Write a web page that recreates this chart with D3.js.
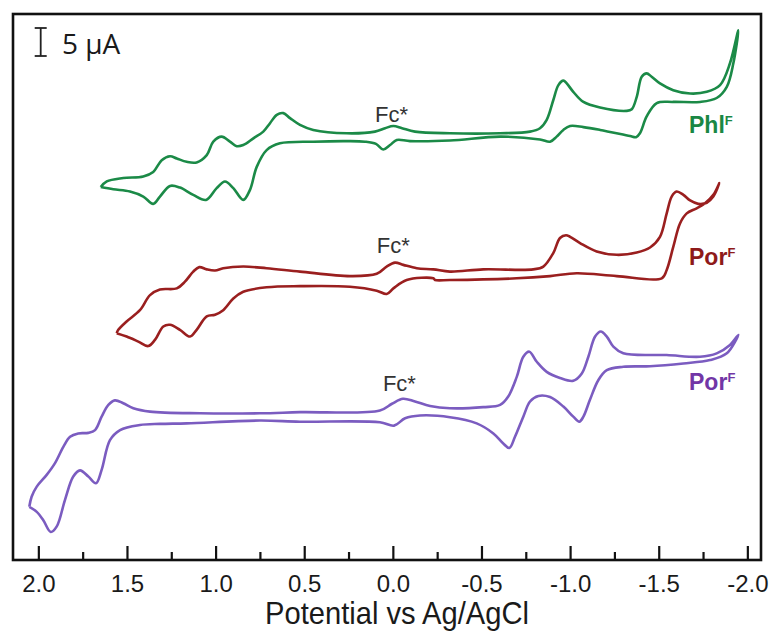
<!DOCTYPE html>
<html>
<head>
<meta charset="utf-8">
<script src="https://cdn.jsdelivr.net/npm/d3@7"></script>
<style>
  body { margin: 0; background: #fff; }
</style>
</head>
<body>
<div class="canvas"></div>
<script>
// CV traces, [potential (V), current (uA, stacked offset)]
// each loop goes along the upper branch left->right then back along the lower one

const phl_upper = [[1.648,66.6],[1.614,67.6],[1.521,68.2],[1.408,68.5],[1.352,69.3],[1.304,71.4],[1.257,72.1],[1.219,71.7],[1.163,71.1],[1.107,71.0],[1.050,72.3],[1.013,74.7],[0.966,75.6],[0.919,74.7],[0.881,73.9],[0.844,74.1],[0.787,75.3],[0.731,76.5],[0.693,78.0],[0.655,79.5],[0.618,79.8],[0.580,78.9],[0.524,77.7],[0.449,76.8],[0.260,76.2],[0.101,76.5],[0.044,77.1],[-0.003,77.5],[-0.052,77.1],[-0.125,76.5],[-0.322,76.2],[-0.605,76.2],[-0.774,76.5],[-0.830,77.1],[-0.868,78.6],[-0.905,82.1],[-0.934,84.8],[-0.962,85.6],[-0.981,85.1],[-1.018,83.6],[-1.075,81.8],[-1.169,80.8],[-1.319,80.2],[-1.348,80.5],[-1.376,82.7],[-1.404,86.3],[-1.432,86.9],[-1.460,86.3],[-1.507,85.1],[-1.582,83.9],[-1.677,83.3],[-1.771,83.6],[-1.846,84.8],[-1.902,88.7],[-1.949,94.6]];
const phl_lower = [[-1.921,88.7],[-1.884,84.5],[-1.827,82.5],[-1.733,81.8],[-1.582,81.8],[-1.489,81.6],[-1.432,79.2],[-1.394,76.2],[-1.372,75.5],[-1.338,75.7],[-1.169,76.8],[-1.075,77.3],[-1.000,77.5],[-0.962,76.8],[-0.924,75.6],[-0.887,74.7],[-0.830,75.1],[-0.605,75.6],[-0.322,74.9],[-0.097,74.8],[-0.022,75.0],[0.016,74.1],[0.054,73.3],[0.095,74.3],[0.157,74.7],[0.260,74.8],[0.449,74.7],[0.637,74.4],[0.712,73.2],[0.768,70.2],[0.806,66.1],[0.844,64.3],[0.900,66.4],[0.947,67.6],[0.994,66.4],[1.054,64.3],[1.126,65.2],[1.201,66.5],[1.257,66.8],[1.314,64.9],[1.352,63.6],[1.408,64.9],[1.483,65.8],[1.577,66.2],[1.648,66.6]];

const por1_upper = [[1.558,40.5],[1.549,41.1],[1.502,42.6],[1.427,44.6],[1.370,47.3],[1.314,48.3],[1.219,48.5],[1.173,49.7],[1.126,51.5],[1.092,52.3],[1.050,51.9],[1.003,51.7],[0.957,52.1],[0.844,52.4],[0.712,52.1],[0.524,51.5],[0.242,50.7],[0.091,51.1],[0.035,52.4],[-0.012,53.1],[-0.059,52.7],[-0.135,52.1],[-0.228,51.9],[-0.322,51.5],[-0.510,51.9],[-0.792,51.9],[-0.849,52.4],[-0.905,54.8],[-0.943,57.5],[-0.977,58.0],[-1.000,57.7],[-1.056,56.6],[-1.150,55.1],[-1.263,54.5],[-1.376,54.9],[-1.451,55.8],[-1.507,57.7],[-1.545,61.9],[-1.573,64.9],[-1.601,65.8],[-1.639,65.2],[-1.677,64.2],[-1.723,63.6],[-1.771,63.8],[-1.808,64.9],[-1.842,67.3]];
const por1_lower = [[-1.808,65.2],[-1.761,63.7],[-1.714,62.8],[-1.658,61.9],[-1.620,60.1],[-1.582,55.9],[-1.545,51.8],[-1.517,50.3],[-1.263,50.7],[-1.037,51.2],[-0.887,50.7],[-0.699,50.3],[-0.322,50.0],[-0.238,50.0],[-0.228,50.3],[-0.078,50.0],[-0.003,48.5],[0.035,47.5],[0.091,48.1],[0.242,48.8],[0.524,48.9],[0.712,48.7],[0.844,47.9],[0.900,46.7],[0.957,44.6],[1.003,43.8],[1.050,43.5],[1.107,41.1],[1.144,39.9],[1.201,41.1],[1.257,42.0],[1.295,41.7],[1.342,39.3],[1.380,38.2],[1.436,39.0],[1.502,39.9],[1.558,40.5]];

const por2_upper = [[2.051,9.5],[2.038,11.3],[2.009,13.1],[1.953,15.2],[1.906,17.3],[1.859,20.2],[1.821,22.0],[1.775,22.6],[1.718,22.7],[1.680,23.2],[1.643,25.6],[1.605,27.7],[1.568,28.5],[1.521,28.0],[1.464,27.1],[1.370,26.5],[1.088,26.2],[0.750,26.2],[0.524,26.4],[0.073,26.7],[0.005,27.9],[-0.057,28.8],[-0.125,28.3],[-0.210,27.5],[-0.322,27.1],[-0.510,27.3],[-0.605,27.7],[-0.651,29.2],[-0.699,32.7],[-0.736,36.3],[-0.770,37.2],[-0.812,35.4],[-0.868,33.6],[-0.943,32.5],[-1.018,32.0],[-1.066,33.3],[-1.103,36.3],[-1.141,39.9],[-1.173,40.8],[-1.207,39.9],[-1.244,38.1],[-1.300,36.9],[-1.545,36.6],[-1.733,36.3],[-1.827,36.9],[-1.902,38.4],[-1.949,40.2]];
const por2_lower = [[-1.884,36.9],[-1.789,35.7],[-1.639,35.1],[-1.451,34.6],[-1.300,34.5],[-1.207,33.9],[-1.159,32.1],[-1.112,28.6],[-1.075,25.6],[-1.052,24.7],[-1.018,25.6],[-0.962,27.4],[-0.887,29.1],[-0.821,29.3],[-0.774,28.3],[-0.736,25.6],[-0.689,22.0],[-0.657,20.0],[-0.623,20.8],[-0.567,22.6],[-0.473,24.4],[-0.322,25.5],[-0.153,25.8],[-0.069,25.3],[-0.007,24.0],[0.073,24.6],[0.524,24.7],[0.750,24.9],[1.163,24.4],[1.314,24.3],[1.427,24.1],[1.539,23.2],[1.596,21.4],[1.643,16.1],[1.675,13.7],[1.718,14.9],[1.765,16.0],[1.803,14.9],[1.850,10.7],[1.896,6.0],[1.930,5.0],[1.972,7.1],[2.009,8.6],[2.051,9.5]];

const major_ticks = [2.0, 1.5, 1.0, 0.5, 0.0, -0.5, -1.0, -1.5, -2.0];
const minor_ticks = [1.75, 1.25, 0.75, 0.25, -0.25, -0.75, -1.25, -1.75];

// label name, superscript, potential, current
const trace_labels = [['Phl', 'F', -1.671, 76.2], ['Por', 'F', -1.671, 52.7], ['Por', 'F', -1.671, 30.4]];
const fc_labels = [[0.101, 78.3], [0.091, 54.8], [0.056, 30.2]];
const scale_bar = [90, 95]; // 5 uA

const W = 772, H = 637;
const svg = d3.select(".canvas").append("svg").attr("width", W).attr("height", H);

const x = d3.scaleLinear().domain([2.143, -2.077]).range([13, 761]);
const y = d3.scaleLinear().domain([0, 97.5]).range([560, 14]);

const line = d3.line()
    .x(d => x(d[0]))
    .y(d => y(d[1]))
    .curve(d3.curveCatmullRom.alpha(0.5));

const traces = [
    { pts: phl_upper.concat(phl_lower), color: "#1b8a47", text: "#1a8744" },
    { pts: por1_upper.concat(por1_lower), color: "#9a1f1f", text: "#8e1a1a" },
    { pts: por2_upper.concat(por2_lower), color: "#7b5cc0", text: "#7236a6" }
];

traces.forEach((t, k) => {
    svg.append("path")
        .attr("d", line(t.pts))
        .attr("fill", "none")
        .attr("stroke", t.color)
        .attr("stroke-width", 2.6)
        .attr("stroke-linejoin", "round");

    let lab = trace_labels[k];
    let txt = svg.append("text")
        .attr("x", x(lab[2]))
        .attr("y", y(lab[3]))
        .attr("font-family", "Liberation Sans, Arial, sans-serif")
        .attr("font-weight", "bold")
        .attr("font-size", 23)
        .attr("fill", t.text)
        .text(lab[0]);
    txt.append("tspan")
        .attr("font-size", 13)
        .attr("dy", -8)
        .text(lab[1]);

    let fc = fc_labels[k];
    svg.append("text")
        .attr("x", x(fc[0]))
        .attr("y", y(fc[1]))
        .attr("font-family", "Liberation Sans, Arial, sans-serif")
        .attr("font-size", 22)
        .attr("fill", "#333")
        .text("Fc*");
});

// frame
svg.append("rect")
    .attr("x", 13).attr("y", 14)
    .attr("width", 748).attr("height", 546)
    .attr("fill", "none")
    .attr("stroke", "#111")
    .attr("stroke-width", 2.6);

// ticks (inside, bottom only)
const xAxis = svg.append("g")
    .attr("transform", "translate(0,560)")
    .call(d3.axisBottom(x).tickValues(major_ticks).tickSize(-14).tickPadding(15)
        .tickFormat(d => d.toFixed(1)));
xAxis.select(".domain").remove();
xAxis.selectAll("line").attr("stroke", "#111").attr("stroke-width", 2.2);
xAxis.selectAll("text")
    .attr("font-family", "Liberation Sans, Arial, sans-serif")
    .attr("font-size", 24)
    .attr("fill", "#1a1a1a");

const minorAxis = svg.append("g")
    .attr("transform", "translate(0,560)")
    .call(d3.axisBottom(x).tickValues(minor_ticks).tickSize(-8).tickFormat(""));
minorAxis.select(".domain").remove();
minorAxis.selectAll("line").attr("stroke", "#111").attr("stroke-width", 2.2);

svg.append("text")
    .attr("transform", "translate(397,624) scale(0.94,1)")
    .attr("text-anchor", "middle")
    .attr("font-family", "Liberation Sans, Arial, sans-serif")
    .attr("font-size", 31)
    .attr("fill", "#1a1a1a")
    .text("Potential vs Ag/AgCl");

// 5 uA scale bar
const sbx = 40.7;
svg.append("line")
    .attr("x1", sbx).attr("x2", sbx)
    .attr("y1", y(scale_bar[0])).attr("y2", y(scale_bar[1]))
    .attr("stroke", "#222").attr("stroke-width", 1.8);
scale_bar.forEach(v => {
    svg.append("line")
        .attr("x1", sbx - 6).attr("x2", sbx + 6)
        .attr("y1", y(v)).attr("y2", y(v))
        .attr("stroke", "#222").attr("stroke-width", 1.8);
});
svg.append("text")
    .attr("x", 62)
    .attr("y", 54)
    .attr("font-family", "Open Sans, sans-serif")
    .attr("font-size", 28)
    .attr("fill", "#1a1a1a")
    .text("5 μA");
</script>
</body>
</html>
